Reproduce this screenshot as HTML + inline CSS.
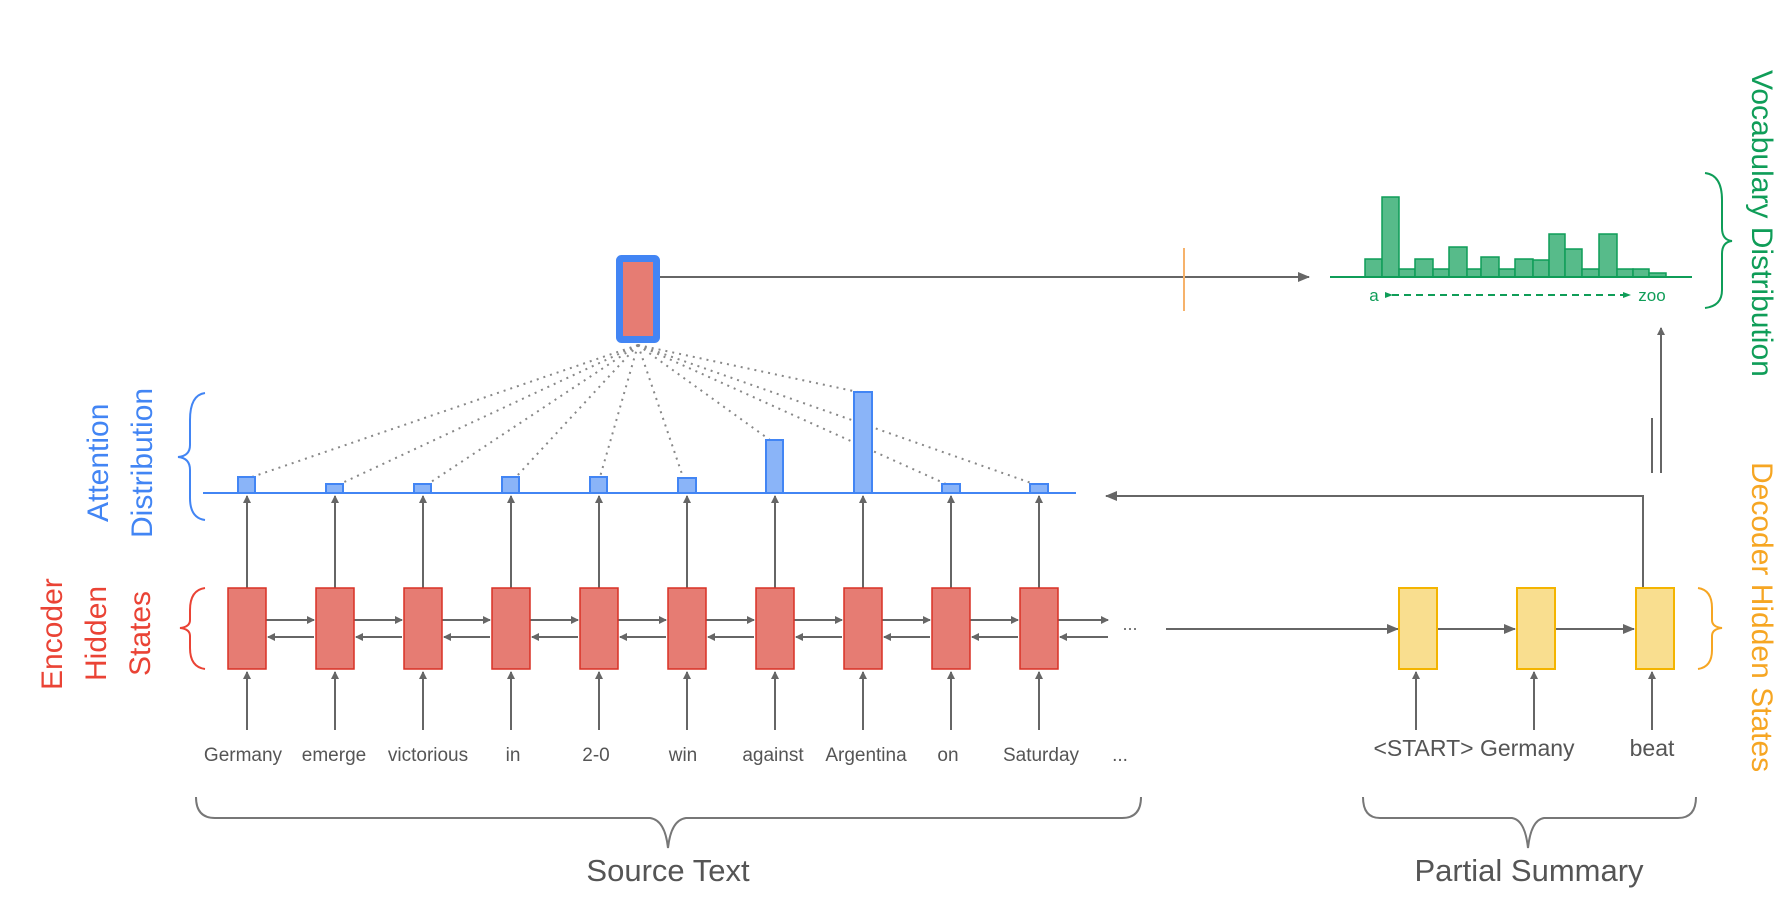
<!DOCTYPE html>
<html><head><meta charset="utf-8"><style>
html,body{margin:0;padding:0;background:#fff;}
svg{display:block;}
text{font-family:"Liberation Sans",sans-serif;}
</style></head><body>
<svg width="1785" height="897" viewBox="0 0 1785 897" xmlns="http://www.w3.org/2000/svg">
<defs>
<marker id="ar" markerWidth="8" markerHeight="8" refX="7" refY="4" orient="auto" markerUnits="userSpaceOnUse">
<path d="M0,0 L8,4 L0,8 z" fill="#666"/></marker>
<marker id="ar2" markerWidth="12" markerHeight="10" refX="11" refY="5" orient="auto" markerUnits="userSpaceOnUse">
<path d="M0,0 L12,5 L0,10 z" fill="#666"/></marker>
<marker id="ag" markerWidth="8" markerHeight="8" refX="7" refY="4" orient="auto" markerUnits="userSpaceOnUse">
<path d="M0,1 L8,4 L0,7 z" fill="#0f9d58"/></marker>
</defs>

<g stroke="#888" stroke-width="2" stroke-dasharray="2,5" fill="none">
<line x1="638" y1="345" x2="252" y2="477"/>
<line x1="638" y1="345" x2="340" y2="484"/>
<line x1="638" y1="345" x2="428" y2="484"/>
<line x1="638" y1="345" x2="516" y2="477"/>
<line x1="638" y1="345" x2="600" y2="477"/>
<line x1="638" y1="345" x2="683" y2="477"/>
<line x1="638" y1="345" x2="770" y2="440"/>
<line x1="638" y1="345" x2="858" y2="392"/>
<line x1="638" y1="345" x2="946" y2="484"/>
<line x1="638" y1="345" x2="1034" y2="484"/>
</g>

<rect x="619.5" y="258.5" width="37" height="81" fill="#e67c73" stroke="#4285f4" stroke-width="7" rx="2"/>
<line x1="660" y1="277" x2="1309" y2="277" stroke="#666" stroke-width="2" marker-end="url(#ar2)"/>
<line x1="1184" y1="248" x2="1184" y2="311" stroke="#f6b26b" stroke-width="2"/>

<g fill="#57bb8a" stroke="#0f9d58" stroke-width="1.5">
<rect x="1365" y="259" width="17" height="18"/>
<rect x="1382" y="197" width="17" height="80"/>
<rect x="1399" y="269" width="16" height="8"/>
<rect x="1415" y="259" width="18" height="18"/>
<rect x="1433" y="269" width="16" height="8"/>
<rect x="1449" y="247" width="18" height="30"/>
<rect x="1467" y="269" width="14" height="8"/>
<rect x="1481" y="257" width="18" height="20"/>
<rect x="1499" y="269" width="16" height="8"/>
<rect x="1515" y="259" width="18" height="18"/>
<rect x="1533" y="260" width="16" height="17"/>
<rect x="1549" y="234" width="16" height="43"/>
<rect x="1565" y="249" width="17" height="28"/>
<rect x="1582" y="269" width="17" height="8"/>
<rect x="1599" y="234" width="18" height="43"/>
<rect x="1617" y="269" width="16" height="8"/>
<rect x="1633" y="269" width="16" height="8"/>
<rect x="1649" y="273" width="17" height="4"/>
</g>
<line x1="1330" y1="277" x2="1692" y2="277" stroke="#0f9d58" stroke-width="2"/>
<text x="1374" y="301" font-size="17" fill="#0f9d58" text-anchor="middle">a</text>
<line x1="1392" y1="295" x2="1630" y2="295" stroke="#0f9d58" stroke-width="2" stroke-dasharray="7,5" marker-start="url(#ag)" marker-end="url(#ag)"/>
<text x="1652" y="301" font-size="17" fill="#0f9d58" text-anchor="middle">zoo</text>
<path d="M1705,173 Q1722,175 1722,200 L1722,228 Q1722,240 1732,241 Q1722,242 1722,254 L1722,290 Q1722,306 1705,308" fill="none" stroke="#0f9d58" stroke-width="2"/>
<text transform="translate(1752,70) rotate(90)" font-size="30" fill="#0f9d58">Vocabulary Distribution</text>

<line x1="1661" y1="473" x2="1661" y2="328" stroke="#666" stroke-width="2" marker-end="url(#ar)"/>
<line x1="1652" y1="418" x2="1652" y2="473" stroke="#666" stroke-width="2"/>
<polyline points="1643,588 1643,496 1106,496" fill="none" stroke="#666" stroke-width="2" marker-end="url(#ar2)"/>

<line x1="203" y1="493" x2="1076" y2="493" stroke="#4285f4" stroke-width="2"/>
<g fill="#8ab4f8" stroke="#4285f4" stroke-width="2">
<rect x="238" y="477" width="17" height="16"/>
<rect x="326" y="484" width="17" height="9"/>
<rect x="414" y="484" width="17" height="9"/>
<rect x="502" y="477" width="17" height="16"/>
<rect x="590" y="477" width="17" height="16"/>
<rect x="678" y="478" width="18" height="15"/>
<rect x="766" y="440" width="17" height="53"/>
<rect x="854" y="392" width="18" height="101"/>
<rect x="942" y="484" width="18" height="9"/>
<rect x="1030" y="484" width="18" height="9"/>
</g>
<path d="M205,393 Q190,395 190,420 L190,445 Q190,456 178,457 Q190,458 190,470 L190,498 Q190,518 205,520" fill="none" stroke="#4285f4" stroke-width="2"/>
<text transform="translate(108,522) rotate(-90)" font-size="30" fill="#4285f4">Attention</text>
<text transform="translate(152,538) rotate(-90)" font-size="30" fill="#4285f4">Distribution</text>

<g stroke="#666" stroke-width="2" fill="none">
<line x1="247" y1="588" x2="247" y2="496" marker-end="url(#ar)"/>
<line x1="335" y1="588" x2="335" y2="496" marker-end="url(#ar)"/>
<line x1="423" y1="588" x2="423" y2="496" marker-end="url(#ar)"/>
<line x1="511" y1="588" x2="511" y2="496" marker-end="url(#ar)"/>
<line x1="599" y1="588" x2="599" y2="496" marker-end="url(#ar)"/>
<line x1="687" y1="588" x2="687" y2="496" marker-end="url(#ar)"/>
<line x1="775" y1="588" x2="775" y2="496" marker-end="url(#ar)"/>
<line x1="863" y1="588" x2="863" y2="496" marker-end="url(#ar)"/>
<line x1="951" y1="588" x2="951" y2="496" marker-end="url(#ar)"/>
<line x1="1039" y1="588" x2="1039" y2="496" marker-end="url(#ar)"/>
</g>
<g stroke="#666" stroke-width="2">
<line x1="247" y1="730" x2="247" y2="672" marker-end="url(#ar)"/>
<line x1="335" y1="730" x2="335" y2="672" marker-end="url(#ar)"/>
<line x1="423" y1="730" x2="423" y2="672" marker-end="url(#ar)"/>
<line x1="511" y1="730" x2="511" y2="672" marker-end="url(#ar)"/>
<line x1="599" y1="730" x2="599" y2="672" marker-end="url(#ar)"/>
<line x1="687" y1="730" x2="687" y2="672" marker-end="url(#ar)"/>
<line x1="775" y1="730" x2="775" y2="672" marker-end="url(#ar)"/>
<line x1="863" y1="730" x2="863" y2="672" marker-end="url(#ar)"/>
<line x1="951" y1="730" x2="951" y2="672" marker-end="url(#ar)"/>
<line x1="1039" y1="730" x2="1039" y2="672" marker-end="url(#ar)"/>
<line x1="1416" y1="730" x2="1416" y2="672" marker-end="url(#ar)"/>
<line x1="1534" y1="730" x2="1534" y2="672" marker-end="url(#ar)"/>
<line x1="1652" y1="730" x2="1652" y2="672" marker-end="url(#ar)"/>
</g>
<g stroke="#666" stroke-width="2">
<line x1="266" y1="620" x2="314" y2="620" marker-end="url(#ar)"/>
<line x1="354" y1="620" x2="402" y2="620" marker-end="url(#ar)"/>
<line x1="442" y1="620" x2="490" y2="620" marker-end="url(#ar)"/>
<line x1="530" y1="620" x2="578" y2="620" marker-end="url(#ar)"/>
<line x1="618" y1="620" x2="666" y2="620" marker-end="url(#ar)"/>
<line x1="706" y1="620" x2="754" y2="620" marker-end="url(#ar)"/>
<line x1="794" y1="620" x2="842" y2="620" marker-end="url(#ar)"/>
<line x1="882" y1="620" x2="930" y2="620" marker-end="url(#ar)"/>
<line x1="970" y1="620" x2="1018" y2="620" marker-end="url(#ar)"/>
<line x1="1058" y1="620" x2="1108" y2="620" marker-end="url(#ar)"/>
<line x1="314" y1="637" x2="268" y2="637" marker-end="url(#ar)"/>
<line x1="402" y1="637" x2="356" y2="637" marker-end="url(#ar)"/>
<line x1="490" y1="637" x2="444" y2="637" marker-end="url(#ar)"/>
<line x1="578" y1="637" x2="532" y2="637" marker-end="url(#ar)"/>
<line x1="666" y1="637" x2="620" y2="637" marker-end="url(#ar)"/>
<line x1="754" y1="637" x2="708" y2="637" marker-end="url(#ar)"/>
<line x1="842" y1="637" x2="796" y2="637" marker-end="url(#ar)"/>
<line x1="930" y1="637" x2="884" y2="637" marker-end="url(#ar)"/>
<line x1="1018" y1="637" x2="972" y2="637" marker-end="url(#ar)"/>
<line x1="1108" y1="637" x2="1060" y2="637" marker-end="url(#ar)"/>
<line x1="1166" y1="629" x2="1398" y2="629" marker-end="url(#ar2)"/>
<line x1="1438" y1="629" x2="1515" y2="629" marker-end="url(#ar2)"/>
<line x1="1556" y1="629" x2="1634" y2="629" marker-end="url(#ar2)"/>
</g>
<g fill="#e67c73" stroke="#d93025" stroke-width="1.5">
<rect x="228" y="588" width="38" height="81"/>
<rect x="316" y="588" width="38" height="81"/>
<rect x="404" y="588" width="38" height="81"/>
<rect x="492" y="588" width="38" height="81"/>
<rect x="580" y="588" width="38" height="81"/>
<rect x="668" y="588" width="38" height="81"/>
<rect x="756" y="588" width="38" height="81"/>
<rect x="844" y="588" width="38" height="81"/>
<rect x="932" y="588" width="38" height="81"/>
<rect x="1020" y="588" width="38" height="81"/>
</g>
<text x="1130" y="630" font-size="18" fill="#666" text-anchor="middle">...</text>
<g fill="#f9de8f" stroke="#f4b400" stroke-width="2">
<rect x="1399" y="588" width="38" height="81"/>
<rect x="1517" y="588" width="38" height="81"/>
<rect x="1636" y="588" width="38" height="81"/>
</g>
<path d="M205,588 Q190,590 190,610 L190,620 Q190,627 180,628 Q190,629 190,636 L190,648 Q190,667 205,669" fill="none" stroke="#ea4335" stroke-width="2"/>
<path d="M1698,588 Q1712,590 1712,608 L1712,620 Q1712,627 1722,628 Q1712,629 1712,636 L1712,650 Q1712,667 1698,669" fill="none" stroke="#f6a623" stroke-width="2"/>
<text transform="translate(62,690) rotate(-90)" font-size="30" fill="#ea4335">Encoder</text>
<text transform="translate(106,681) rotate(-90)" font-size="30" fill="#ea4335">Hidden</text>
<text transform="translate(150,676) rotate(-90)" font-size="30" fill="#ea4335">States</text>
<text transform="translate(1752,462) rotate(90)" font-size="30" fill="#f6a623">Decoder Hidden States</text>

<g font-size="19" fill="#555" text-anchor="middle">
<text x="243" y="761">Germany</text>
<text x="334" y="761">emerge</text>
<text x="428" y="761">victorious</text>
<text x="513" y="761">in</text>
<text x="596" y="761">2-0</text>
<text x="683" y="761">win</text>
<text x="773" y="761">against</text>
<text x="866" y="761">Argentina</text>
<text x="948" y="761">on</text>
<text x="1041" y="761">Saturday</text>
<text x="1120" y="761">...</text>
</g>
<g font-size="23" fill="#555" text-anchor="middle">
<text x="1474" y="756">&lt;START&gt; Germany</text>
<text x="1652" y="756">beat</text>
</g>
<path d="M196,797 Q196,818 215,818 L650,818 Q665,820 668,848 Q671,820 686,818 L1122,818 Q1141,818 1141,797" fill="none" stroke="#777" stroke-width="2"/>
<path d="M1363,797 Q1363,818 1380,818 L1512,818 Q1525,820 1528,848 Q1531,820 1544,818 L1678,818 Q1696,818 1696,797" fill="none" stroke="#777" stroke-width="2"/>
<text x="668" y="881" font-size="31" fill="#555" text-anchor="middle">Source Text</text>
<text x="1529" y="881" font-size="31" fill="#555" text-anchor="middle">Partial Summary</text>
</svg>
</body></html>
